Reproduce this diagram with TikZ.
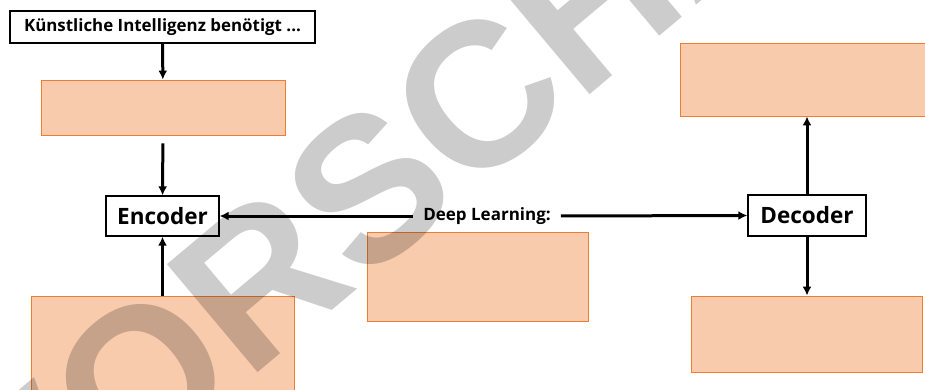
\documentclass[tikz,border=0pt]{standalone}
\usepackage{fontspec}
\setmainfont{Open Sans}
\newfontfamily\wmfont{Liberation Sans}
\usetikzlibrary{positioning,arrows.meta}
\definecolor{boxfill}{HTML}{F8CBAD}
\definecolor{boxline}{HTML}{ED7D31}
\tikzstyle{textbox} = [draw=black, line width=1.3pt, fill=white, inner sep=0pt, font=\bfseries]
\tikzstyle{gapbox} = [draw=boxline, line width=0.9pt, fill=boxfill, inner sep=0pt]
\tikzstyle{link} = [line width=3pt, -{Latex[length=9pt,width=9pt]}]
\newcommand{\gap}[4]{\node [gapbox, minimum width=#3pt, minimum height=#4pt] (#1) at (#2) {};}

\begin{document}
\begin{tikzpicture}[x=1pt, y=-1pt]
            \useasboundingbox (0,0) rectangle (925,389);
            % title
            \node [textbox, minimum width=305pt, minimum height=32pt, font=\bfseries\fontsize{16.9}{19}\selectfont] (ki) at (162.5,27) {Künstliche Intelligenz benötigt ...};
            % orange fields
            \gap{gapa}{163,107.5}{244}{55}
            \gap{gapb}{162.5,351}{263}{110}
            \gap{gapc}{477.5,276.5}{221}{89}
            \gap{gapd}{807,79.5}{254}{73}
            \gap{gape}{806.5,334}{231}{76}
            % encoder / decoder
            \node [textbox, minimum width=113pt, minimum height=40pt, font=\bfseries\fontsize{22.5}{25}\selectfont] (enc) at (162.5,216) {Encoder};
            \node [textbox, minimum width=118pt, minimum height=41pt, font=\bfseries\fontsize{22.5}{25}\selectfont] (dec) at (807,215.5) {Decoder};
            \node [font=\bfseries\fontsize{17}{19}\selectfont, inner sep=0pt] (dl) at (487,216) {Deep Learning:};
            % arrows
            \draw [link] (ki) -- (gapa);
            \draw [link, shorten <=8pt] (gapa) -- (enc);
            \draw [link] (gapb.north -| enc) -- (enc);
            \draw [link, shorten <=10pt] (dl.west) -- (enc.east);
            \draw [link, shorten <=10pt] (dl.east) -- (dec.west);
            \draw [link] (dec) -- (dec |- gapd.south);
            \draw [link] (dec) -- (dec |- gape.north);
            % watermark
            \begin{scope}[blend mode=multiply]
            \node [text=black!20, font=\wmfont\bfseries\fontsize{205}{205}\selectfont, rotate=40, inner sep=0pt] (wm) at (425,141) {VORSCHAU};
            \end{scope}
\end{tikzpicture}
\end{document}
